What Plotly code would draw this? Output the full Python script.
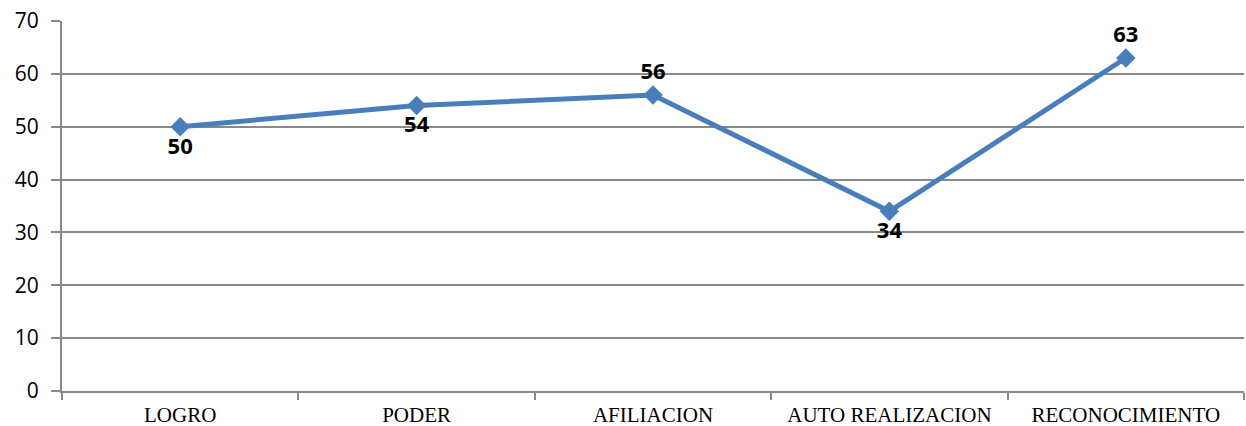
import plotly.graph_objects as go

# Motivation factors and their scores
categories = ["LOGRO", "PODER", "AFILIACION", "AUTO REALIZACION", "RECONOCIMIENTO"]
scores = [50, 54, 56, 34, 63]
label_positions = ["bottom center", "bottom center", "top center", "bottom center", "top center"]
y_ticks = [0, 10, 20, 30, 40, 50, 60, 70]

line_blue = "#4A7EBB"
grid_grey = "#898989"

fig = go.Figure()
fig.add_trace(go.Scatter(
    x=categories,
    y=scores,
    mode="lines+markers+text",
    line=dict(color=line_blue, width=5),
    marker=dict(symbol="diamond", size=15, color=line_blue),
    text=[str(v) for v in scores],
    textposition=label_positions,
    textfont=dict(family="Open Sans", size=22, color="black", weight="bold"),
    cliponaxis=False,
    showlegend=False,
))

fig.update_layout(
    width=1246,
    height=426,
    margin=dict(l=62, r=2, t=21, b=35),
    paper_bgcolor="white",
    plot_bgcolor="white",
)

fig.update_xaxes(
    type="category",
    range=[-0.5, 4.5],
    tickson="boundaries",
    ticks="outside",
    ticklen=7,
    tickwidth=1.5,
    tickcolor=grid_grey,
    showgrid=False,
    showline=True,
    linecolor=grid_grey,
    linewidth=2,
    tickfont=dict(family="Liberation Serif", size=21, color="black"),
    ticklabelstandoff=4,
    automargin=False,
)

fig.update_yaxes(
    range=[0, 70],
    tickvals=y_ticks,
    ticks="outside",
    ticklen=9,
    tickwidth=2,
    tickcolor=grid_grey,
    showgrid=True,
    gridcolor=grid_grey,
    gridwidth=2,
    showline=True,
    linecolor=grid_grey,
    linewidth=2,
    zeroline=False,
    tickfont=dict(family="Open Sans", size=21, color="black"),
    ticklabelstandoff=8,
    automargin=False,
)

fig.write_html("out.html")
